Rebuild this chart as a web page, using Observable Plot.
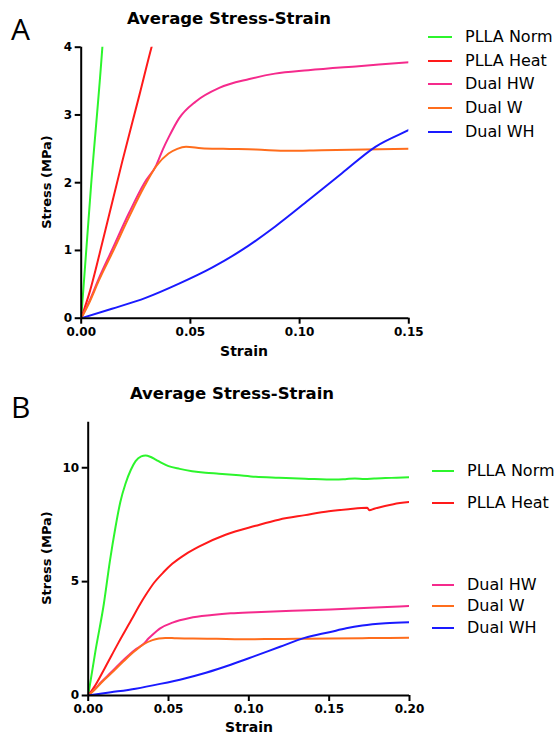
<!DOCTYPE html>
<html><head><meta charset="utf-8">
<script src="https://cdn.jsdelivr.net/npm/d3@7"></script>
<script src="https://cdn.jsdelivr.net/npm/@observablehq/plot@0.6"></script>
<style>
body{margin:0;background:#fff;width:558px;height:738px;position:relative;overflow:hidden;font-family:"DejaVu Sans",sans-serif;color:#000}
.abs{position:absolute;white-space:nowrap;line-height:1}
.panel{position:absolute;left:0}
.title{font-weight:bold;font-size:16.5px}
.letter{font-family:"Open Sans",sans-serif;font-size:30px}
.xl{font-weight:bold;font-size:14px}
.yl{font-weight:bold;font-size:13px;transform:translate(-50%,-50%) rotate(-90deg)}
.leg{font-size:16px}
svg [aria-label$="axis tick"]{stroke-width:2}
</style></head><body>
<div id="root"></div>
<script>
// ---- data ----
const seriesNames = ["PLLA Norm","PLLA Heat","Dual HW","Dual W","Dual WH"];
const seriesColors = ["#2cf52c","#ff1a1a","#f52a8c","#ff6d1c","#1a1aff"];

const strainNorm = [0,0.0045,0.0098,0.0135,0.017,0.020,0.0232,0.0265,0.0295,0.033,0.0357,0.039,0.042,0.046,0.050,0.057,0.0647,0.073,0.0813,0.092,0.1042,0.1187,0.135,0.154,0.160,0.166,0.172,0.178,0.185,0.192,0.200];
const stressNorm = [0,1.95,4.05,5.9,7.4,8.5,9.3,9.9,10.29,10.5,10.54,10.47,10.36,10.2,10.07,9.95,9.85,9.78,9.74,9.68,9.6,9.56,9.52,9.48,9.5,9.53,9.51,9.53,9.55,9.56,9.58];

const strainHeat = [0,0.004,0.0103,0.0187,0.0267,0.0322,0.0357,0.041,0.047,0.0523,0.0605,0.0689,0.0855,0.1042,0.1187,0.135,0.1498,0.162,0.1737,0.175,0.178,0.190,0.2007];
const stressHeat = [0,0.4,1.2,2.3,3.3,4.0,4.4,4.95,5.42,5.78,6.2,6.54,7.06,7.45,7.72,7.92,8.09,8.18,8.24,8.13,8.2,8.4,8.5];

const strainHW = [0,0.004,0.008,0.014,0.022,0.029,0.0344,0.0375,0.0402,0.0448,0.0525,0.0632,0.077,0.0887,0.104,0.127,0.1508,0.175,0.200];
const stressHW = [0,0.27,0.58,1.0,1.56,2.0,2.26,2.5,2.68,2.95,3.2,3.4,3.53,3.61,3.66,3.72,3.78,3.85,3.93];

const strainW = [0,0.004,0.008,0.014,0.022,0.029,0.0345,0.040,0.044,0.048,0.055,0.065,0.080,0.095,0.110,0.130,0.150,0.175,0.200];
const stressW = [0,0.25,0.55,0.95,1.5,1.95,2.25,2.43,2.5,2.53,2.51,2.5,2.49,2.47,2.48,2.49,2.5,2.52,2.54];

const strainWH = [0,0.0141,0.0295,0.0448,0.0601,0.0733,0.0887,0.104,0.1194,0.1347,0.1508,0.1606,0.1706,0.185,0.200];
const stressWH = [0,0.14,0.30,0.51,0.75,1.0,1.35,1.74,2.14,2.53,2.79,2.95,3.07,3.17,3.22];

const xTicksA = [0,0.05,0.10,0.15];
const yTicksA = [0,1,2,3,4];
const xTicksB = [0,0.05,0.10,0.15,0.20];
const yTicksB = [0,5,10];

const titleText = "Average Stress-Strain";
const xLabel = "Strain";
const yLabel = "Stress (MPa)";

// ---- build rows ----
const strains = [strainNorm,strainHeat,strainHW,strainW,strainWH];
const stresses = [stressNorm,stressHeat,stressHW,stressW,stressWH];
const rows = seriesNames.flatMap((s,i)=>strains[i].map((x,j)=>({series:s,strain:x,stress:stresses[i][j]})));

const root = document.getElementById("root");
function add(html){const d=document.createElement("div");d.innerHTML=html;const el=d.firstElementChild;root.appendChild(el);return el;}

function panel(top,height,m,xDom,xT,yDom,yT){
  const chart = Plot.plot({
    width:558,height,
    marginLeft:m[0],marginRight:m[1],marginTop:m[2],marginBottom:m[3],
    style:{fontFamily:"DejaVu Sans",fontSize:"12px",fontWeight:"bold",background:"transparent",overflow:"visible",color:"#000"},
    x:{domain:xDom,ticks:xT,tickFormat:d3.format(".2f"),label:null,tickSize:6,tickPadding:3},
    y:{domain:yDom,ticks:yT,tickFormat:d3.format("d"),label:null,tickSize:6,tickPadding:3},
    color:{domain:seriesNames,range:seriesColors},
    marks:[
      Plot.line(rows,{x:"strain",y:"stress",z:"series",stroke:"series",strokeWidth:2,curve:"monotone-x",clip:true}),
      Plot.ruleX([0],{strokeWidth:2}),
      Plot.ruleY([0],{strokeWidth:2})
    ]
  });
  chart.classList.add("panel");
  chart.style.top = top+"px";
  root.appendChild(chart);
}

panel(0,370,[80.7,149.7,46.7,52.3],[0,0.15],xTicksA,[0,4],yTicksA);
panel(370,368,[87.7,149,51.7,43],[0,0.20],xTicksB,[0,12],yTicksB);

// titles and letters
add(`<div class="abs letter" style="left:11px;top:14px">A</div>`);
add(`<div class="abs letter" style="left:11px;top:392px">B</div>`);
add(`<div class="abs title" style="left:229px;top:11px;transform:translateX(-50%)">${titleText}</div>`);
add(`<div class="abs title" style="left:232px;top:386px;transform:translateX(-50%)">${titleText}</div>`);
// axis labels
add(`<div class="abs xl" style="left:244px;top:344px;transform:translateX(-50%)">${xLabel}</div>`);
add(`<div class="abs xl" style="left:249px;top:720px;transform:translateX(-50%)">${xLabel}</div>`);
add(`<div class="abs yl" style="left:46px;top:182px">${yLabel}</div>`);
add(`<div class="abs yl" style="left:46px;top:558px">${yLabel}</div>`);

// legends
const legA = [37,61,84,108,132];
const legB = [470.7,502.7,585,606,627.7];
function legend(ys,x0,x1,tx){
  seriesNames.forEach((s,i)=>{
    const y = ys[i];
    add(`<svg class="abs" style="left:${x0}px;top:${y-2}px" width="${x1-x0}" height="4"><line x1="0" x2="${x1-x0}" y1="2" y2="2" stroke="${seriesColors[i]}" stroke-width="2"/></svg>`);
    add(`<div class="abs leg" style="left:${tx}px;top:${y}px;transform:translateY(-50%)">${s}</div>`);
  });
}
legend(legA,428,452,465);
legend(legB,432,454,467);
</script>
</body></html>
